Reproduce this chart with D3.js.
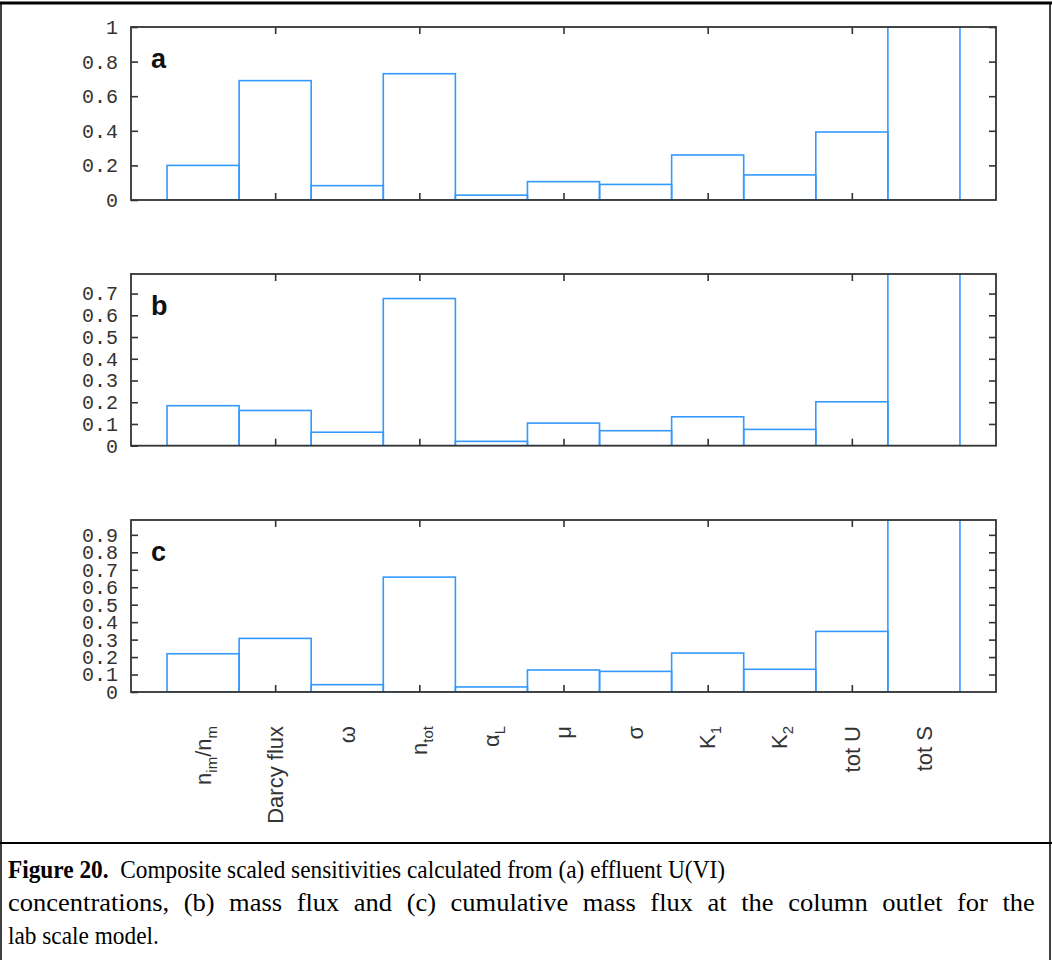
<!DOCTYPE html>
<html>
<head>
<meta charset="utf-8">
<script src="https://cdn.jsdelivr.net/npm/d3@7"></script>
<style>
  body { margin: 0; background: #fff; }
  svg { display: block; }
</style>
</head>
<body>
<div id="chart"></div>
<script>
// parameter names (gnuplot style sub-scripts written as _{..})
var categories = ["n_{im}/n_{m}", "Darcy flux", "ω", "n_{tot}", "α_{L}", "μ", "σ", "K_{1}", "K_{2}", "tot U", "tot S"];

// composite scaled sensitivities
var effluentU = [0.20, 0.69, 0.083, 0.73, 0.028, 0.106, 0.09, 0.26, 0.145, 0.393, 1.0];
var massFlux = [0.184, 0.162, 0.062, 0.677, 0.02, 0.104, 0.069, 0.133, 0.075, 0.202, 1.0];
var cumMassFlux = [0.219, 0.307, 0.042, 0.658, 0.029, 0.126, 0.118, 0.223, 0.13, 0.347, 1.0];

var ticksA = [0, 0.2, 0.4, 0.6, 0.8, 1];
var ticksB = [0, 0.1, 0.2, 0.3, 0.4, 0.5, 0.6, 0.7];
var ticksC = [0, 0.1, 0.2, 0.3, 0.4, 0.5, 0.6, 0.7, 0.8, 0.9];
var xTicks = [2, 4, 6, 8, 10];

var captionLines = [
  "Composite scaled sensitivities calculated from (a) effluent U(VI)",
  "concentrations, (b) mass flux and (c) cumulative mass flux at the column outlet for the",
  "lab scale model."
];

var W = 1052, H = 960;
var plotLeft = 131, plotRight = 996;
var barColor = "#3399ff", axisColor = "#333";

var svg = d3.select("#chart").append("svg")
    .attr("width", W)
    .attr("height", H);

var x = d3.scaleLinear().domain([0, 12]).range([plotLeft, plotRight]);

var panels = [
  {id: "a", values: effluentU, ymax: 1, ticks: ticksA, top: 27, bottom: 200},
  {id: "b", values: massFlux, ymax: 0.79, ticks: ticksB, top: 274, bottom: 445.7},
  {id: "c", values: cumMassFlux, ymax: 0.985, ticks: ticksC, top: 520, bottom: 692}
];

panels.forEach(function(p) {
  var y = d3.scaleLinear().domain([0, p.ymax]).range([p.bottom, p.top]);
  var g = svg.append("g");

  g.append("clipPath").attr("id", "clip-" + p.id)
    .append("rect")
      .attr("x", plotLeft).attr("y", p.top)
      .attr("width", plotRight - plotLeft).attr("height", p.bottom - p.top);

  // bars (outlined boxes, one per parameter)
  g.append("g")
    .attr("clip-path", "url(#clip-" + p.id + ")")
    .selectAll("rect")
    .data(p.values)
    .enter()
    .append("rect")
      .attr("x", function(d, i) { return x(i + 0.5); })
      .attr("y", function(d) { return y(d); })
      .attr("width", x(1) - x(0))
      .attr("height", function(d) { return p.bottom - y(d); })
      .style("fill", "none")
      .style("stroke", barColor)
      .style("stroke-width", 1.6);

  // axes, ticks pointing inwards
  var left = g.append("g")
      .attr("transform", "translate(" + plotLeft + ",0)")
      .call(d3.axisLeft(y).tickValues(p.ticks).tickSize(-7).tickPadding(13)
            .tickFormat(function(d) { return String(+d.toFixed(1)); }));
  var right = g.append("g")
      .attr("transform", "translate(" + plotRight + ",0)")
      .call(d3.axisRight(y).tickValues(p.ticks.slice(1)).tickSize(-7).tickFormat(""));
  var top = g.append("g")
      .attr("transform", "translate(0," + p.top + ")")
      .call(d3.axisTop(x).tickValues(xTicks).tickSize(-7).tickFormat(""));
  var bottom = g.append("g")
      .attr("transform", "translate(0," + p.bottom + ")")
      .call(d3.axisBottom(x).tickValues(xTicks).tickSize(-7).tickFormat(""));

  [left, right, top, bottom].forEach(function(a) {
    a.select(".domain").remove();
    a.selectAll("line").style("stroke", axisColor).style("stroke-width", 1.6);
  });
  [right, top, bottom].forEach(function(a) { a.selectAll("text").remove(); });
  left.selectAll("text")
    .style("font-family", "'Liberation Mono', monospace")
    .style("font-size", "20px")
    .style("fill", axisColor);

  g.append("rect")
    .attr("x", plotLeft).attr("y", p.top)
    .attr("width", plotRight - plotLeft).attr("height", p.bottom - p.top)
    .style("fill", "none")
    .style("stroke", axisColor)
    .style("stroke-width", 1.8);

  // panel letter
  g.append("text")
    .attr("x", plotLeft + 20)
    .attr("y", p.top + 41)
    .text(p.id)
    .style("font-family", "'Liberation Sans', Arial, sans-serif")
    .style("font-weight", "bold")
    .style("font-size", "27px")
    .style("fill", "#111");
});

// rotated category labels under the last panel
var labels = svg.append("g").selectAll("text")
    .data(categories)
    .enter()
    .append("text")
      .attr("transform", function(d, i) { return "translate(" + x(i + 1) + ",726) rotate(-90)"; })
      .attr("dy", "0.35em")
      .style("text-anchor", "end")
      .style("font-family", "'Liberation Sans', Arial, sans-serif")
      .style("font-size", "22px")
      .style("fill", axisColor);

labels.each(function(d) {
  var t = d3.select(this);
  var parts = d.split(/(_\{[^}]*\})/).filter(function(s) { return s.length; });
  var shifted = false;
  parts.forEach(function(s) {
    if (s.charAt(0) === "_") {
      t.append("tspan").text(s.slice(2, -1))
        .attr("dy", 6)
        .style("font-size", "15px");
      shifted = true;
    } else {
      var ts = t.append("tspan").text(s);
      if (shifted) { ts.attr("dy", -6); shifted = false; }
    }
  });
});

// figure frame and caption box
var frame = svg.append("g").style("stroke", "#000");
frame.append("line").attr("x1", 0).attr("x2", W).attr("y1", 3).attr("y2", 3).style("stroke-width", 3);
frame.append("line").attr("x1", 1).attr("x2", 1).attr("y1", 2).attr("y2", H).style("stroke-width", 1.5);
frame.append("line").attr("x1", W - 2).attr("x2", W - 2).attr("y1", 2).attr("y2", H).style("stroke-width", 1.5);
frame.append("line").attr("x1", 0).attr("x2", W).attr("y1", 843).attr("y2", 843).style("stroke-width", 2);

// caption: narrow serif, second line fills the box width
var caption = svg.append("g")
    .style("font-family", "'Liberation Serif', 'Times New Roman', serif")
    .style("font-size", "26px")
    .style("fill", "#000");

var capTexts = captionLines.map(function(line, i) {
  var t = caption.append("text")
      .attr("x", 8)
      .attr("y", 878 + i * 33);
  if (i === 0) {
    t.append("tspan").text("Figure 20.").style("font-weight", "bold");
    t.append("tspan").text("\u00a0 " + line);
  } else {
    t.text(line);
  }
  return t;
});

var line1End = 717, line2End = 1027;
var w1 = capTexts[0].node().getComputedTextLength();
var w2 = capTexts[1].node().getComputedTextLength();
var w3 = capTexts[2].node().getComputedTextLength();
var sx = line1End / w1;
var sx2 = sx * (1 + (line2End / (sx * w2) - 1) * 0.5);
var gaps = captionLines[1].split(" ").length - 1;
capTexts[0].attr("textLength", line1End).attr("lengthAdjust", "spacingAndGlyphs");
capTexts[2].attr("textLength", w3 * sx).attr("lengthAdjust", "spacingAndGlyphs");
capTexts[1]
  .style("word-spacing", ((line2End - w2 * sx2) / gaps / sx2) + "px")
  .attr("transform", "translate(8,0) scale(" + sx2 + ",1) translate(-8,0)");
</script>
</body>
</html>
